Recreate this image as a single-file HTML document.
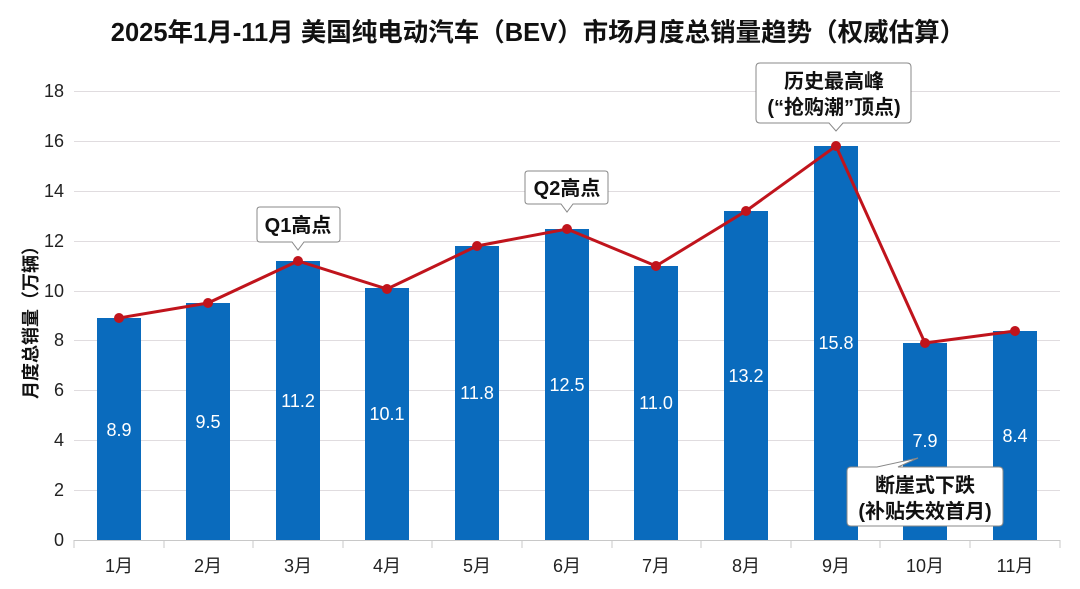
<!DOCTYPE html>
<html><head><meta charset="utf-8"><style>
body{margin:0;background:#fff;}
svg{display:block;font-family:"Liberation Sans","Noto Sans CJK SC",sans-serif;}
</style></head><body>
<svg width="1080" height="589" viewBox="0 0 1080 589" xmlns="http://www.w3.org/2000/svg">
<rect width="1080" height="589" fill="#fff"/>
<text x="538" y="41" text-anchor="middle" font-size="25.5" font-weight="bold" fill="#111">2025年1月-11月 美国纯电动汽车（BEV）市场月度总销量趋势（权威估算）</text>
<g stroke="#e0dcdf" stroke-width="1">
<line x1="74" x2="1060" y1="91.5" y2="91.5"/><line x1="74" x2="1060" y1="141.5" y2="141.5"/>
<line x1="74" x2="1060" y1="191.5" y2="191.5"/><line x1="74" x2="1060" y1="241.5" y2="241.5"/>
<line x1="74" x2="1060" y1="291.5" y2="291.5"/><line x1="74" x2="1060" y1="340.5" y2="340.5"/>
<line x1="74" x2="1060" y1="390.5" y2="390.5"/><line x1="74" x2="1060" y1="440.5" y2="440.5"/>
<line x1="74" x2="1060" y1="490.5" y2="490.5"/>
</g>
<line x1="74" x2="1060" y1="540.5" y2="540.5" stroke="#c8c8c8"/>
<g stroke="#c8c8c8">
<line x1="74" x2="74" y1="540" y2="548"/><line x1="164" x2="164" y1="540" y2="548"/><line x1="253" x2="253" y1="540" y2="548"/><line x1="343" x2="343" y1="540" y2="548"/><line x1="432" x2="432" y1="540" y2="548"/><line x1="522" x2="522" y1="540" y2="548"/><line x1="612" x2="612" y1="540" y2="548"/><line x1="701" x2="701" y1="540" y2="548"/><line x1="791" x2="791" y1="540" y2="548"/><line x1="880" x2="880" y1="540" y2="548"/><line x1="970" x2="970" y1="540" y2="548"/><line x1="1060" x2="1060" y1="540" y2="548"/>
</g>
<g font-size="18" fill="#222" text-anchor="end">
<text x="64" y="546">0</text><text x="64" y="496">2</text><text x="64" y="446">4</text><text x="64" y="396">6</text><text x="64" y="346">8</text><text x="64" y="297">10</text><text x="64" y="247">12</text><text x="64" y="197">14</text><text x="64" y="147">16</text><text x="64" y="97">18</text>
</g>
<text transform="translate(37,318) rotate(-90)" text-anchor="middle" font-size="18" font-weight="bold" fill="#111">月度总销量（万辆）</text>
<g fill="#0a6bbd">
<rect x="97" y="318" width="44" height="222"/>
<rect x="186" y="303" width="44" height="237"/>
<rect x="276" y="261" width="44" height="279"/>
<rect x="365" y="288" width="44" height="252"/>
<rect x="455" y="246" width="44" height="294"/>
<rect x="545" y="229" width="44" height="311"/>
<rect x="634" y="266" width="44" height="274"/>
<rect x="724" y="211" width="44" height="329"/>
<rect x="814" y="146" width="44" height="394"/>
<rect x="903" y="343" width="44" height="197"/>
<rect x="993" y="331" width="44" height="209"/>
</g>
<g font-size="18" fill="#fff" text-anchor="middle">
<text x="119" y="436">8.9</text><text x="208" y="428">9.5</text><text x="298" y="407">11.2</text><text x="387" y="420">10.1</text><text x="477" y="399">11.8</text><text x="567" y="391">12.5</text><text x="656" y="409">11.0</text><text x="746" y="382">13.2</text><text x="836" y="349">15.8</text><text x="925" y="447">7.9</text><text x="1015" y="442">8.4</text>
</g>
<polyline fill="none" stroke="#c0141c" stroke-width="3" points="119,318 208,303 298,261 387,289 477,246 567,229 656,266 746,211 836,146 925,343 1015,331"/>
<g fill="#c0141c">
<circle cx="119" cy="318" r="5"/><circle cx="208" cy="303" r="5"/><circle cx="298" cy="261" r="5"/><circle cx="387" cy="289" r="5"/><circle cx="477" cy="246" r="5"/><circle cx="567" cy="229" r="5"/><circle cx="656" cy="266" r="5"/><circle cx="746" cy="211" r="5"/><circle cx="836" cy="146" r="5"/><circle cx="925" cy="343" r="5"/><circle cx="1015" cy="331" r="5"/>
</g>
<g font-size="18" fill="#222" text-anchor="middle">
<text x="119" y="572">1月</text><text x="208" y="572">2月</text><text x="298" y="572">3月</text><text x="387" y="572">4月</text><text x="477" y="572">5月</text><text x="567" y="572">6月</text><text x="656" y="572">7月</text><text x="746" y="572">8月</text><text x="836" y="572">9月</text><text x="925" y="572">10月</text><text x="1015" y="572">11月</text>
</g>
<g fill="#fff" stroke="#888" stroke-width="1">
<path d="M260,207 H337 Q340,207 340,210 V239 Q340,242 337,242 H304 L298,250 L292,242 H260 Q257,242 257,239 V210 Q257,207 260,207 Z"/>
<path d="M528,171 H605 Q608,171 608,174 V201 Q608,204 605,204 H573 L567,212 L561,204 H528 Q525,204 525,201 V174 Q525,171 528,171 Z"/>
<path d="M760,63 H907 Q911,63 911,67 V119 Q911,123 907,123 H843 L836,131 L829,123 H760 Q756,123 756,119 V67 Q756,63 760,63 Z"/>
<path d="M851,467 H877 L918,458 L898,467 H999 Q1003,467 1003,471 V522 Q1003,526 999,526 H851 Q847,526 847,522 V471 Q847,467 851,467 Z"/>
</g>
<g font-size="20" font-weight="bold" fill="#111" text-anchor="middle">
<text x="298" y="232">Q1高点</text>
<text x="567" y="195">Q2高点</text>
<text x="834" y="88">历史最高峰</text>
<text x="834" y="114">(“抢购潮”顶点)</text>
<text x="925" y="492">断崖式下跌</text>
<text x="925" y="518">(补贴失效首月)</text>
</g>
</svg>
</body></html>
